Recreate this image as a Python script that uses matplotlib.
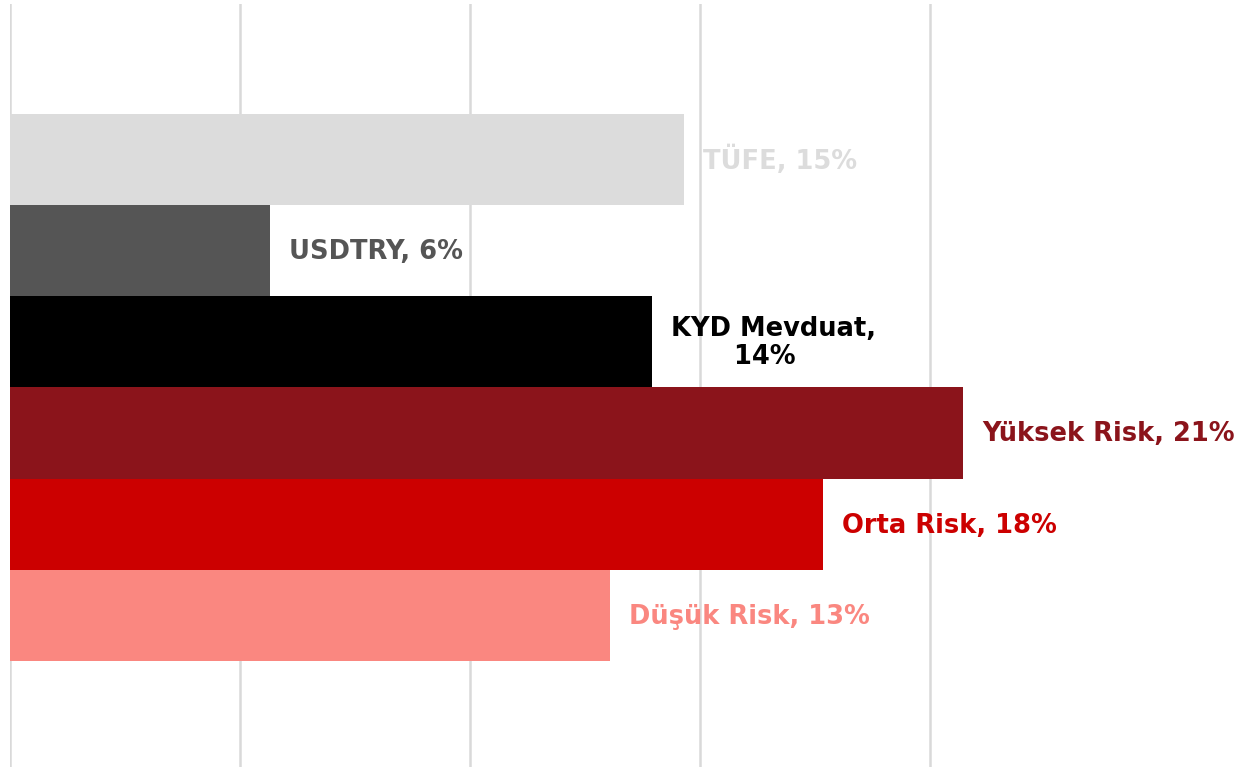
import numpy as np
import matplotlib

matplotlib.use("Agg")
import matplotlib.pyplot as plt

# bars from bottom to top
categories = ["Düşük Risk", "Orta Risk", "Yüksek Risk", "KYD Mevduat", "USDTRY", "TÜFE"]
values = [13.04, 17.67, 20.72, 13.96, 5.65, 14.65]
labels = ["Düşük Risk, 13%", "Orta Risk, 18%", "Yüksek Risk, 21%",
          "KYD Mevduat,\n14%  ", "USDTRY, 6%", "TÜFE, 15%"]
colors = ["#fa8780", "#cc0000", "#8b141b", "#000000", "#555555", "#dcdcdc"]

W, H = 1244, 767
fig = plt.figure(figsize=(W / 100, H / 100), dpi=100)
x_max = 24.5
px_per_unit = 46.0
ax = fig.add_axes([10 / W, 0, x_max * px_per_unit / W, 1 - 4 / H])

y = np.arange(len(categories))
ax.barh(y, values, height=1.0, color=colors, zorder=2)

for yi, v, lab, c in zip(y, values, labels, colors):
    ax.text(v + 0.42, yi - 0.015, lab, color=c, fontsize=18.5, fontweight="bold",
            va="center", ha="left", multialignment="center",
            linespacing=1.12, clip_on=False, zorder=3)

ax.set_xlim(0, x_max)
ax.set_ylim(-1.662, 6.704)
ax.set_xticks([0, 5, 10, 15, 20])
ax.set_yticks([])
ax.tick_params(axis="x", length=0, labelbottom=False)
ax.grid(axis="x", color="#d9d9d9", linewidth=1.8, zorder=0)
ax.set_axisbelow(True)
for s in ax.spines.values():
    s.set_visible(False)

fig.savefig("out.png", dpi=100)
